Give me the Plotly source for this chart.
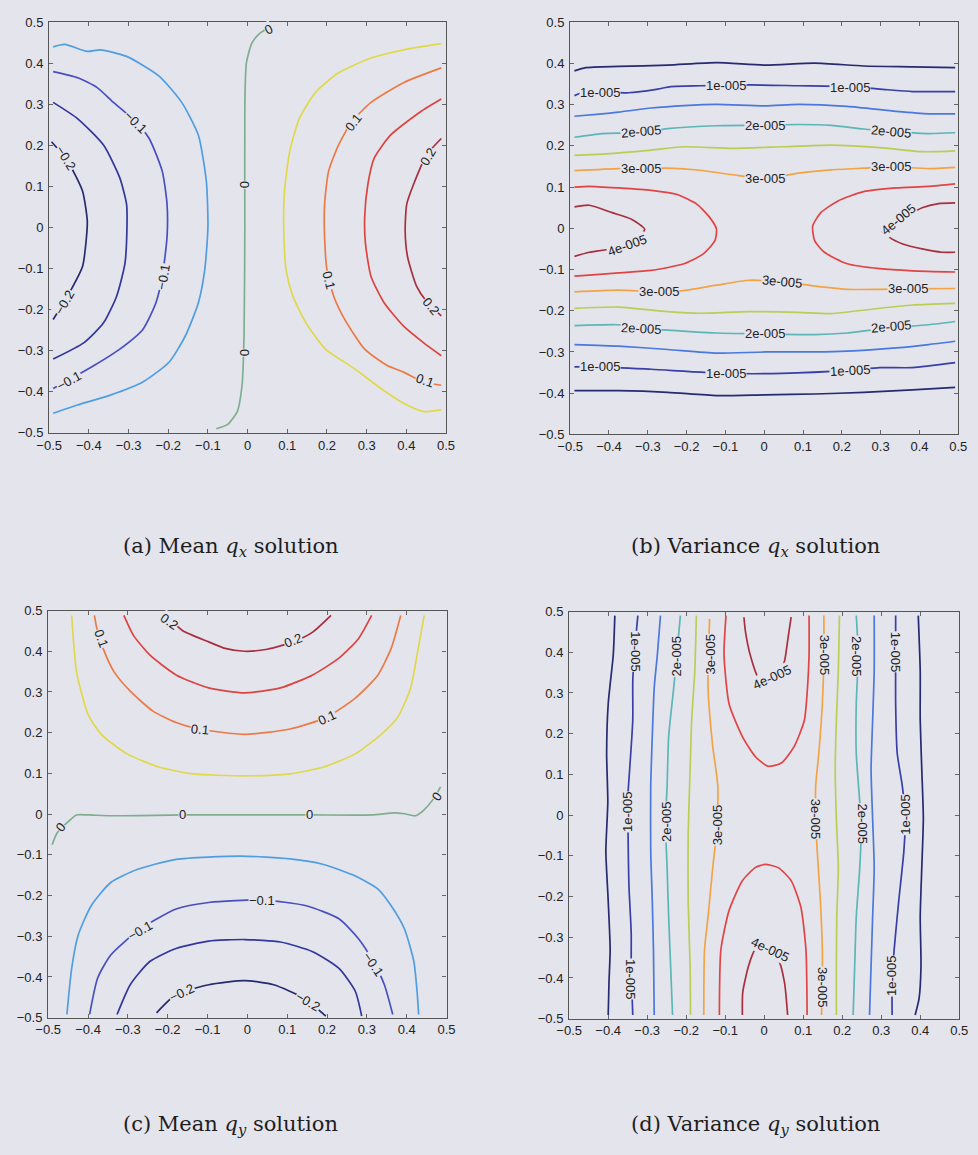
import plotly.graph_objects as go

BG = "#e4e4ed"

# ---------------- Panel (a): mean q_x ----------------
a_levels = [-0.2, -0.15, -0.1, -0.05, 0.0, 0.05, 0.1, 0.15, 0.2]
a_x = [
    [-0.494, -0.453, -0.416, -0.404, -0.406, -0.416, -0.449, -0.490],
    [-0.490, -0.428, -0.363, -0.322, -0.305, -0.304, -0.309, -0.330, -0.363, -0.412, -0.490],
    [-0.490, -0.428, -0.379, -0.338, -0.281, -0.248, -0.215, -0.203, -0.203, -0.215, -0.231, -0.264, -0.322, -0.387, -0.445, -0.490],
    [-0.490, -0.461, -0.404, -0.371, -0.305, -0.223, -0.166, -0.124, -0.104, -0.100, -0.108, -0.124, -0.157, -0.198, -0.264, -0.346, -0.429, -0.490],
    [0.056, 0.032, 0.011, -0.003, -0.007, -0.007, -0.009, -0.014, -0.026, -0.051, -0.079],
    [0.488, 0.393, 0.311, 0.229, 0.171, 0.130, 0.106, 0.093, 0.091, 0.097, 0.114, 0.147, 0.196, 0.270, 0.336, 0.393, 0.443, 0.488],
    [0.488, 0.393, 0.311, 0.262, 0.229, 0.204, 0.194, 0.194, 0.200, 0.217, 0.245, 0.295, 0.352, 0.393, 0.443, 0.488],
    [0.488, 0.434, 0.360, 0.319, 0.303, 0.295, 0.297, 0.311, 0.344, 0.393, 0.443, 0.488],
    [0.488, 0.451, 0.418, 0.401, 0.397, 0.403, 0.426, 0.451, 0.488],
]
a_y = [
    [0.209, 0.161, 0.089, 0.017, -0.023, -0.095, -0.159, -0.224],
    [0.305, 0.265, 0.201, 0.121, 0.057, 0.001, -0.087, -0.167, -0.232, -0.280, -0.320],
    [0.380, 0.365, 0.341, 0.305, 0.257, 0.217, 0.137, 0.057, -0.023, -0.119, -0.183, -0.248, -0.296, -0.336, -0.368, -0.392],
    [0.440, 0.446, 0.429, 0.433, 0.417, 0.369, 0.305, 0.225, 0.113, 0.001, -0.103, -0.183, -0.264, -0.328, -0.376, -0.408, -0.432, -0.452],
    [0.488, 0.474, 0.450, 0.401, 0.297, 0.001, -0.264, -0.384, -0.448, -0.480, -0.490],
    [0.448, 0.433, 0.413, 0.377, 0.329, 0.265, 0.185, 0.089, 0.001, -0.103, -0.167, -0.232, -0.296, -0.344, -0.392, -0.428, -0.448, -0.444],
    [0.389, 0.353, 0.305, 0.257, 0.201, 0.137, 0.057, -0.023, -0.103, -0.167, -0.224, -0.296, -0.336, -0.352, -0.376, -0.384],
    [0.313, 0.281, 0.225, 0.169, 0.105, 0.025, -0.039, -0.119, -0.183, -0.240, -0.280, -0.312],
    [0.217, 0.177, 0.105, 0.057, -0.007, -0.071, -0.143, -0.180, -0.215],
]
a_seg_level = [0, 1, 2, 3, 4, 5, 6, 7, 8]
a_lab_text = ["−0.1", "−0.1", "−0.2", "−0.2", "−0.1", "0.1", "0.1", "0.1", "0.2", "0.2", "0", "0", "0"]
a_lab_x = [-0.281, -0.212, -0.457, -0.461, -0.449, 0.266, 0.204, 0.447, 0.455, 0.463, -0.007, -0.007, 0.052]
a_lab_y = [0.257, -0.119, 0.169, -0.183, -0.372, 0.257, -0.127, -0.372, 0.173, -0.192, 0.105, -0.304, 0.483]
a_lab_ang = [45, -80, 58, -60, -29, -52, 76, 19, -59, 50, -90, -90, -27]

# ---------------- Panel (b): variance q_x ----------------
b_levels = [5e-6, 1e-5, 1.5e-5, 2e-5, 2.5e-5, 3e-5, 3.5e-5, 4e-5]
b_x = [
    [-0.489, -0.460, -0.375, -0.249, -0.123, 0.003, 0.130, 0.256, 0.382, 0.492],
    [-0.489, -0.375, -0.249, -0.123, 0.003, 0.130, 0.256, 0.382, 0.492],
    [-0.489, -0.460, -0.350, -0.274, -0.241, -0.165, -0.039, 0.088, 0.214, 0.298, 0.382, 0.492],
    [-0.489, -0.422, -0.291, -0.098, 0.045, 0.222, 0.298, 0.382, 0.492],
    [-0.489, -0.418, -0.375, -0.291, -0.207, -0.123, 0.003, 0.088, 0.214, 0.340, 0.424, 0.492],
    [-0.489, -0.375, -0.249, -0.123, 0.003, 0.130, 0.214, 0.340, 0.424, 0.492],
    [-0.489, -0.418, -0.325, -0.249, -0.123, 0.003, 0.088, 0.172, 0.256, 0.323, 0.424, 0.492],
    [-0.489, -0.375, -0.317, -0.249, -0.123, 0.003, 0.130, 0.214, 0.323, 0.424, 0.492],
    [-0.489, -0.418, -0.291, -0.207, -0.081, 0.045, 0.172, 0.298, 0.407, 0.492],
    [-0.489, -0.375, -0.249, -0.165, -0.039, 0.088, 0.172, 0.298, 0.382, 0.492],
    [-0.489, -0.375, -0.317, -0.249, -0.165, -0.081, 0.003, 0.088, 0.172, 0.256, 0.323, 0.424, 0.492],
    [-0.489, -0.375, -0.274, -0.207, -0.123, -0.039, 0.045, 0.130, 0.214, 0.298, 0.374, 0.492],
    [-0.489, -0.451, -0.375, -0.291, -0.224, -0.173, -0.140, -0.123, -0.127, -0.157, -0.207, -0.291, -0.375, -0.460, -0.489],
    [0.492, 0.424, 0.340, 0.256, 0.189, 0.146, 0.125, 0.130, 0.155, 0.214, 0.298, 0.382, 0.492],
    [-0.489, -0.451, -0.392, -0.342, -0.308, -0.317, -0.359, -0.401, -0.451, -0.489],
    [0.492, 0.449, 0.407, 0.355, 0.302, 0.323, 0.357, 0.407, 0.458, 0.492],
]
b_y = [
    [0.382, 0.390, 0.393, 0.396, 0.402, 0.396, 0.401, 0.394, 0.392, 0.390],
    [-0.394, -0.394, -0.398, -0.406, -0.404, -0.402, -0.398, -0.392, -0.386],
    [0.322, 0.332, 0.329, 0.338, 0.344, 0.346, 0.348, 0.346, 0.344, 0.338, 0.332, 0.332],
    [-0.336, -0.336, -0.342, -0.352, -0.352, -0.344, -0.338, -0.338, -0.326],
    [0.272, 0.278, 0.282, 0.292, 0.298, 0.301, 0.297, 0.301, 0.296, 0.284, 0.278, 0.278],
    [-0.282, -0.286, -0.294, -0.303, -0.300, -0.300, -0.298, -0.290, -0.282, -0.274],
    [0.221, 0.230, 0.232, 0.242, 0.249, 0.250, 0.252, 0.250, 0.241, 0.236, 0.230, 0.232],
    [-0.236, -0.234, -0.242, -0.247, -0.254, -0.256, -0.258, -0.254, -0.242, -0.234, -0.226],
    [0.177, 0.180, 0.190, 0.198, 0.194, 0.198, 0.202, 0.196, 0.186, 0.188],
    [-0.194, -0.191, -0.202, -0.206, -0.202, -0.204, -0.207, -0.194, -0.186, -0.182],
    [0.140, 0.145, 0.145, 0.146, 0.141, 0.130, 0.121, 0.134, 0.142, 0.146, 0.149, 0.145, 0.148],
    [-0.154, -0.150, -0.154, -0.151, -0.138, -0.126, -0.130, -0.140, -0.148, -0.148, -0.147, -0.146],
    [0.100, 0.102, 0.098, 0.092, 0.082, 0.058, 0.026, -0.002, -0.030, -0.062, -0.086, -0.102, -0.108, -0.114, -0.116],
    [0.108, 0.102, 0.098, 0.089, 0.066, 0.038, 0.006, -0.030, -0.058, -0.086, -0.098, -0.103, -0.106],
    [0.052, 0.056, 0.038, 0.022, -0.002, -0.014, -0.030, -0.050, -0.058, -0.068],
    [0.062, 0.060, 0.050, 0.024, -0.002, -0.022, -0.038, -0.050, -0.058, -0.058],
]
b_seg_level = [0, 0, 1, 1, 2, 2, 3, 3, 4, 4, 5, 5, 6, 6, 7, 7]
b_lab_text = ["1e-005"] * 6 + ["2e-005"] * 6 + ["3e-005"] * 6 + ["4e-005"] * 2
b_lab_x = [-0.422, -0.098, 0.222, -0.422, -0.098, 0.222,
           -0.318, 0.003, 0.326, -0.317, 0.003, 0.326,
           -0.317, 0.003, 0.326, -0.270, 0.045, 0.370,
           -0.354, 0.345]
b_lab_y = [0.330, 0.346, 0.342, -0.336, -0.352, -0.344,
           0.234, 0.250, 0.236, -0.242, -0.256, -0.238,
           0.145, 0.121, 0.149, -0.154, -0.128, -0.147,
           -0.042, 0.022]
b_lab_ang = [0, 0, 0, 0, 0, -3,
             -5, 0, 5, 3, 0, -5,
             0, 0, 0, 0, 5, 0,
             -20, -40]

# ---------------- Panel (c): mean q_y ----------------
c_levels = [-0.2, -0.15, -0.1, -0.05, 0.0, 0.05, 0.1, 0.15, 0.2]
c_x = [
    [-0.228, -0.179, -0.097, -0.007, 0.066, 0.140, 0.197],
    [-0.327, -0.294, -0.245, -0.179, -0.097, -0.007, 0.083, 0.164, 0.230, 0.271, 0.287],
    [-0.396, -0.376, -0.343, -0.273, -0.179, -0.097, 0.038, 0.148, 0.230, 0.279, 0.316, 0.344, 0.365],
    [-0.453, -0.441, -0.425, -0.392, -0.343, -0.277, -0.179, -0.016, 0.107, 0.189, 0.271, 0.328, 0.361, 0.394, 0.418, 0.426, 0.430],
    [-0.490, -0.478, -0.449, -0.429, -0.400, -0.343, -0.163, -0.016, 0.156, 0.312, 0.369, 0.394, 0.422, 0.443, 0.471, 0.485],
    [-0.441, -0.437, -0.429, -0.400, -0.367, -0.302, -0.220, -0.138, -0.007, 0.107, 0.189, 0.271, 0.336, 0.377, 0.410, 0.426, 0.444],
    [-0.384, -0.376, -0.359, -0.335, -0.294, -0.237, -0.179, -0.122, -0.007, 0.107, 0.197, 0.271, 0.328, 0.361, 0.385],
    [-0.310, -0.286, -0.245, -0.179, -0.097, -0.007, 0.083, 0.164, 0.230, 0.279, 0.312],
    [-0.204, -0.163, -0.097, -0.056, -0.007, 0.050, 0.115, 0.164, 0.210],
]
c_y = [
    [-0.488, -0.443, -0.419, -0.409, -0.419, -0.451, -0.496],
    [-0.492, -0.419, -0.362, -0.330, -0.312, -0.308, -0.314, -0.338, -0.379, -0.435, -0.496],
    [-0.492, -0.403, -0.346, -0.285, -0.233, -0.217, -0.211, -0.225, -0.257, -0.306, -0.362, -0.419, -0.492],
    [-0.492, -0.379, -0.298, -0.225, -0.168, -0.136, -0.111, -0.103, -0.110, -0.123, -0.152, -0.184, -0.225, -0.281, -0.362, -0.435, -0.492],
    [-0.075, -0.047, -0.018, -0.002, -0.002, -0.004, -0.002, -0.002, -0.002, -0.002, 0.003, 0.001, -0.004, 0.010, 0.043, 0.067],
    [0.488, 0.431, 0.350, 0.245, 0.196, 0.148, 0.115, 0.099, 0.094, 0.099, 0.115, 0.148, 0.196, 0.237, 0.310, 0.391, 0.488],
    [0.488, 0.447, 0.399, 0.350, 0.302, 0.253, 0.225, 0.209, 0.196, 0.209, 0.237, 0.285, 0.342, 0.407, 0.488],
    [0.488, 0.439, 0.391, 0.342, 0.310, 0.298, 0.310, 0.342, 0.383, 0.431, 0.488],
    [0.488, 0.451, 0.423, 0.407, 0.400, 0.405, 0.423, 0.447, 0.488],
]
c_seg_level = [0, 1, 2, 3, 4, 5, 6, 7, 8]
c_lab_text = ["0.2", "0.2", "0.1", "0.1", "0.1", "0", "0", "0", "0", "−0.1", "−0.1", "−0.1", "−0.2", "−0.2"]
c_lab_x = [-0.196, 0.115, -0.367, -0.118, 0.201, -0.470, -0.163, 0.156, 0.475, -0.269, 0.038, 0.316, -0.163, 0.152]
c_lab_y = [0.472, 0.427, 0.431, 0.209, 0.237, -0.032, -0.002, -0.002, 0.044, -0.285, -0.211, -0.370, -0.439, -0.460]
c_lab_ang = [35, -22, 70, 5, -25, -50, 0, 0, -55, -30, 0, 55, -25, 30]

# ---------------- Panel (d): variance q_y ----------------
d_levels = [5e-6, 1e-5, 1.5e-5, 2e-5, 2.5e-5, 3e-5, 3.5e-5, 4e-5]
d_x = [
    [-0.383, -0.387, -0.400, -0.404, -0.401, -0.406, -0.400, -0.395, -0.398, -0.400],
    [0.395, 0.400, 0.400, 0.404, 0.408, 0.404, 0.400, 0.402, 0.397, 0.387],
    [-0.324, -0.333, -0.337, -0.337, -0.345, -0.349, -0.349, -0.347, -0.341, -0.341, -0.337],
    [0.337, 0.337, 0.337, 0.341, 0.354, 0.362, 0.358, 0.345, 0.337, 0.328, 0.328],
    [-0.266, -0.274, -0.282, -0.287, -0.291, -0.291, -0.287, -0.284, -0.282],
    [0.282, 0.282, 0.278, 0.274, 0.278, 0.282, 0.278, 0.274, 0.270],
    [-0.215, -0.224, -0.232, -0.245, -0.249, -0.253, -0.249, -0.245, -0.240, -0.235],
    [0.236, 0.241, 0.236, 0.236, 0.245, 0.249, 0.245, 0.236, 0.232, 0.228],
    [-0.174, -0.178, -0.186, -0.190, -0.195, -0.195, -0.190, -0.189],
    [0.193, 0.190, 0.185, 0.182, 0.185, 0.190, 0.186, 0.185, 0.185],
    [-0.140, -0.144, -0.132, -0.119, -0.123, -0.132, -0.144, -0.153, -0.155],
    [0.153, 0.153, 0.149, 0.140, 0.132, 0.132, 0.136, 0.144, 0.149, 0.149, 0.147],
    [-0.098, -0.103, -0.090, -0.056, -0.023, 0.010, 0.044, 0.077, 0.103, 0.111, 0.115, 0.115],
    [-0.115, -0.111, -0.090, -0.056, -0.023, 0.002, 0.036, 0.069, 0.094, 0.107, 0.110],
    [-0.052, -0.048, -0.036, -0.015, 0.006, 0.031, 0.052, 0.061, 0.069],
    [-0.056, -0.055, -0.040, -0.023, -0.002, 0.036, 0.052, 0.060],
]
d_y = [
    [0.490, 0.394, 0.273, 0.152, 0.032, -0.089, -0.210, -0.330, -0.411, -0.491],
    [0.490, 0.354, 0.233, 0.112, -0.008, -0.129, -0.250, -0.370, -0.451, -0.491],
    [0.490, 0.394, 0.329, 0.233, 0.112, 0.055, -0.049, -0.169, -0.290, -0.370, -0.491],
    [0.490, 0.394, 0.273, 0.152, 0.072, 0.000, -0.089, -0.210, -0.290, -0.395, -0.491],
    [0.490, 0.394, 0.313, 0.193, 0.072, -0.089, -0.210, -0.330, -0.491],
    [0.490, 0.354, 0.233, 0.112, -0.010, -0.129, -0.250, -0.370, -0.491],
    [0.490, 0.394, 0.313, 0.193, 0.072, -0.025, -0.129, -0.250, -0.370, -0.491],
    [0.490, 0.394, 0.273, 0.152, 0.032, -0.025, -0.129, -0.250, -0.370, -0.491],
    [0.490, 0.354, 0.233, 0.112, -0.049, -0.210, -0.370, -0.491],
    [0.490, 0.354, 0.233, 0.112, -0.010, -0.129, -0.250, -0.370, -0.491],
    [0.482, 0.313, 0.169, 0.072, -0.049, -0.129, -0.250, -0.330, -0.491],
    [0.490, 0.394, 0.273, 0.152, 0.072, -0.010, -0.089, -0.210, -0.330, -0.411, -0.491],
    [0.490, 0.394, 0.273, 0.193, 0.144, 0.120, 0.128, 0.169, 0.233, 0.313, 0.394, 0.490],
    [-0.491, -0.330, -0.234, -0.161, -0.129, -0.121, -0.129, -0.161, -0.226, -0.330, -0.491],
    [0.486, 0.450, 0.394, 0.337, 0.321, 0.329, 0.378, 0.434, 0.486],
    [-0.491, -0.435, -0.370, -0.330, -0.322, -0.354, -0.411, -0.491],
]
d_seg_level = [0, 0, 1, 1, 2, 2, 3, 3, 4, 4, 5, 5, 6, 6, 7, 7]
d_lab_text = ["1e-005"] * 6 + ["2e-005"] * 4 + ["3e-005"] * 5 + ["4e-005"] * 2
d_lab_x = [-0.331, -0.349, -0.341, 0.337, 0.360, 0.328,
           -0.226, -0.251, 0.236, 0.251,
           -0.137, -0.121, 0.153, 0.132, 0.149,
           0.019, 0.015]
d_lab_y = [0.402, 0.008, -0.403, 0.402, 0.000, -0.395,
           0.390, -0.016, 0.390, -0.021,
           0.394, -0.025, 0.394, -0.008, -0.423,
           0.337, -0.330]
d_lab_ang = [90, -90, 90, 90, -90, -90,
             -90, -90, 90, 90,
             -90, -90, 90, 90, 90,
             -25, 25]

# ---------------- tick values and captions ----------------
tick_vals = [-0.5, -0.4, -0.3, -0.2, -0.1, 0, 0.1, 0.2, 0.3, 0.4, 0.5]
tick_text = ["−0.5", "−0.4", "−0.3", "−0.2", "−0.1", "0", "0.1", "0.2", "0.3", "0.4", "0.5"]
captions = [
    "(a) Mean <i>q</i><sub><i>x</i></sub> solution",
    "(b) Variance <i>q</i><sub><i>x</i></sub> solution",
    "(c) Mean <i>q</i><sub><i>y</i></sub> solution",
    "(d) Variance <i>q</i><sub><i>y</i></sub> solution",
]

# ---------------- styling ----------------
colors9 = ["#262a6e", "#33379a", "#4a4fbe", "#4f9ee0", "#7fae8e", "#e0d84a", "#ec7a44", "#dc4440", "#a8303e"]
colors8 = ["#262a70", "#3a3ea6", "#4a78dc", "#5cb6b6", "#bccc55", "#f2a444", "#e04444", "#a8303e"]

W, H = 978, 1155
boxes = {  # left, right, top, bottom in pixels
    1: (37, 443, 15.5, 431.5),
    2: (570, 967, 15.5, 433),
    3: (36, 443.5, 611.5, 1024),
    4: (569, 968, 612.5, 1025),
}

fig = go.Figure()

panels = [
    (1, a_x, a_y, a_seg_level, colors9, a_lab_text, a_lab_x, a_lab_y, a_lab_ang),
    (2, b_x, b_y, b_seg_level, colors8, b_lab_text, b_lab_x, b_lab_y, b_lab_ang),
    (3, c_x, c_y, c_seg_level, colors9, c_lab_text, c_lab_x, c_lab_y, c_lab_ang),
    (4, d_x, d_y, d_seg_level, colors8, d_lab_text, d_lab_x, d_lab_y, d_lab_ang),
]

annotations = []
for idx, xs, ys, lev, cols, lt, lx, ly, la in panels:
    xa = "x" if idx == 1 else f"x{idx}"
    ya = "y" if idx == 1 else f"y{idx}"
    for sx, sy, li in zip(xs, ys, lev):
        fig.add_trace(go.Scatter(
            x=sx, y=sy, mode="lines", xaxis=xa, yaxis=ya,
            line=dict(color=cols[li], width=1.7, shape="spline", smoothing=0.6),
            hoverinfo="skip", showlegend=False))
    for t, x0, y0, ang in zip(lt, lx, ly, la):
        annotations.append(dict(
            x=x0, y=y0, xref=xa, yref=ya, text=t, showarrow=False,
            textangle=ang, bgcolor=BG, borderpad=0,
            font=dict(family="Liberation Sans, Arial, sans-serif", size=13, color="#222222")))

axis_common = dict(
    range=[-0.5, 0.5], tickvals=tick_vals, ticktext=tick_text,
    showgrid=False, zeroline=False, showline=True, linecolor="#555555", linewidth=1.3,
    mirror="allticks", ticks="inside", ticklen=4, tickcolor="#666666",
    tickfont=dict(family="Liberation Sans, Arial, sans-serif", size=13, color="#222222"),
)

layout = dict(
    width=W, height=H, margin=dict(l=0, r=0, t=0, b=0),
    paper_bgcolor=BG, plot_bgcolor=BG, showlegend=False,
)
for idx, (l, r, t, b) in boxes.items():
    xk = "xaxis" if idx == 1 else f"xaxis{idx}"
    yk = "yaxis" if idx == 1 else f"yaxis{idx}"
    ya = "y" if idx == 1 else f"y{idx}"
    xa = "x" if idx == 1 else f"x{idx}"
    layout[xk] = dict(axis_common, domain=[l / W, r / W], anchor=ya, ticklabelstandoff=0)
    layout[yk] = dict(axis_common, domain=[1 - b / H, 1 - t / H], anchor=xa, ticklabelstandoff=2)

caption_pos = [(223, 547), (760, 547), (222, 1133), (760, 1133)]
for txt, (cx, cy) in zip(captions, caption_pos):
    annotations.append(dict(
        x=cx / W, y=1 - cy / H, xref="paper", yref="paper", text=txt, showarrow=False,
        xanchor="center", yanchor="middle",
        font=dict(family="DejaVu Serif, Liberation Serif, serif", size=21, color="#1e1e1e")))

layout["annotations"] = annotations
fig.update_layout(**layout)
fig.write_html("out.html")
